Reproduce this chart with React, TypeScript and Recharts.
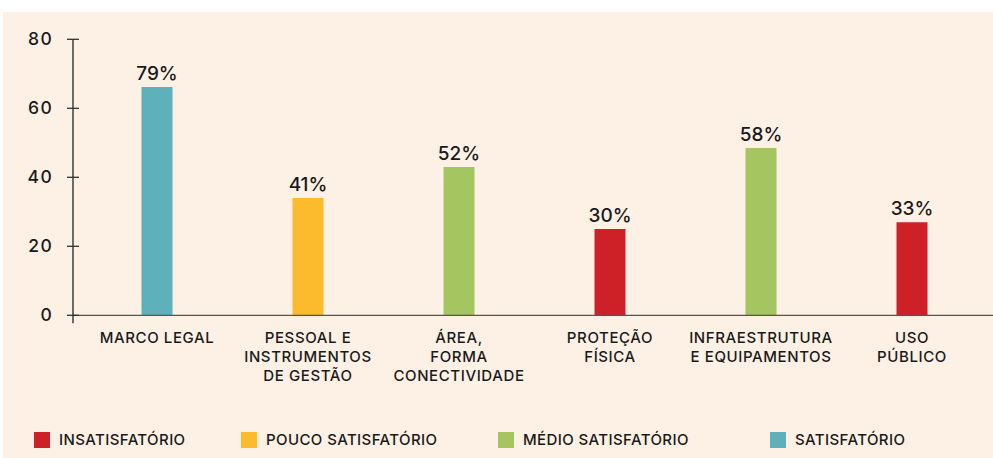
import React from "react";
import { BarChart, Bar, XAxis, YAxis, Cell, LabelList, Legend } from "recharts";

const categories = [
  "MARCO LEGAL",
  "PESSOAL E|INSTRUMENTOS|DE GESTÃO",
  "ÁREA,|FORMA|CONECTIVIDADE",
  "PROTEÇÃO|FÍSICA",
  "INFRAESTRUTURA|E EQUIPAMENTOS",
  "USO|PÚBLICO",
];
const values = [66.2, 34.0, 43.0, 25.0, 48.5, 27.0];
const percentLabels = ["79%", "41%", "52%", "30%", "58%", "33%"];
const ratingOfCategory = [3, 1, 2, 0, 2, 0];

const ratingNames = ["INSATISFATÓRIO", "POUCO SATISFATÓRIO", "MÉDIO SATISFATÓRIO", "SATISFATÓRIO"];
const ratingColors = ["#cd2127", "#fcbb2c", "#a4c55f", "#5eb0ba"];

const yTicks = [0, 20, 40, 60, 80];

const data = categories.map((c, i) => ({
  name: c,
  value: values[i],
  label: percentLabels[i],
  rating: ratingOfCategory[i],
}));

const FONT = "Inter, Lato, sans-serif";
const TEXT = "#1a1a1a";
const BG = "#fdf0e5";
const TICK_SIZE = 6;
const TICK_MARGIN = 14;
const legendLefts = [31, 238, 495, 767];

const YTick = (props: any) => {
  const { x, y, payload } = props;
  const ax = x + TICK_SIZE + TICK_MARGIN;
  return (
    <g>
      <line x1={ax} y1={y} x2={ax + 6} y2={y} stroke="#333" strokeWidth={1.3} />
      {payload.value === 0 && (
        <line x1={ax} y1={y} x2={ax} y2={y + 8} stroke="#222" strokeWidth={1.3} />
      )}
      <text
        x={x}
        y={y}
        dy={6}
        textAnchor="end"
        fill={TEXT}
        fontSize={17.5}
        letterSpacing={1.3}
        fontFamily={FONT}
        fontWeight={500}
      >
        {payload.value}
      </text>
    </g>
  );
};

const XTick = (props: any) => {
  const { x, y, payload } = props;
  const lines = String(payload.value).split("|");
  return (
    <text
      x={x}
      y={y}
      textAnchor="middle"
      fill={TEXT}
      fontSize={15}
      letterSpacing={0.6}
      fontFamily={FONT}
      fontWeight={500}
    >
      {lines.map((l, i) => (
        <tspan key={i} x={x} dy={i === 0 ? 0 : 18.7}>
          {l}
        </tspan>
      ))}
    </text>
  );
};

const LegendContent = () => (
  <div style={{ position: "relative", width: 990, height: 30 }}>
    {ratingNames.map((n, i) => (
      <div
        key={n}
        style={{
          position: "absolute",
          left: legendLefts[i],
          top: 7,
          display: "flex",
          alignItems: "center",
          fontFamily: FONT,
          fontSize: 15,
          letterSpacing: "0.4px",
          fontWeight: 500,
          color: TEXT,
          whiteSpace: "nowrap",
        }}
      >
        <span style={{ display: "inline-block", width: 16, height: 16, background: ratingColors[i], marginRight: 9 }} />
        <span>{n}</span>
      </div>
    ))}
  </div>
);

export default function App() {
  return (
    <div style={{ position: "absolute", left: 0, top: 0, width: 993, height: 458, background: "#ffffff" }}>
      <div style={{ position: "absolute", left: 3, top: 12, width: 990, height: 446, background: BG }}>
        <BarChart
          width={990}
          height={446}
          data={data}
          margin={{ top: 27.3, right: 0, bottom: 5, left: 0 }}
        >
          <XAxis
            dataKey="name"
            interval={0}
            tickLine={false}
            axisLine={{ stroke: "#555", strokeWidth: 1.3 }}
            height={107.7}
            padding={{ left: 8.5, right: 5.5 }}
            tick={<XTick />}
            tickMargin={22}
          />
          <YAxis
            domain={[0, 80]}
            ticks={yTicks}
            width={70}
            tickSize={TICK_SIZE}
            tickMargin={TICK_MARGIN}
            tickLine={{ stroke: "#333", strokeWidth: 1.3 }}
            axisLine={{ stroke: "#222", strokeWidth: 1.3 }}
            tick={<YTick />}
          />
          <Legend
            verticalAlign="bottom"
            align="left"
            height={30}
            content={<LegendContent />}
            wrapperStyle={{ left: 0, width: 990 }}
          />
          <Bar dataKey="value" barSize={31} isAnimationActive={false}>
            {data.map((d, i) => (
              <Cell key={i} fill={ratingColors[d.rating]} />
            ))}
            <LabelList
              dataKey="label"
              position="top"
              offset={7}
              fill={TEXT}
              fontSize={19}
              fontFamily={FONT}
              fontWeight={500}
            />
          </Bar>
        </BarChart>
      </div>
    </div>
  );
}
